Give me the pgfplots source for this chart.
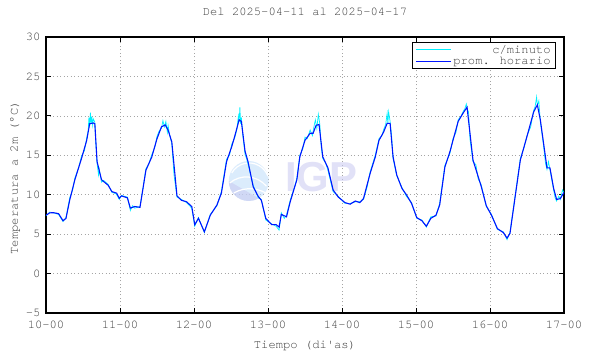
\documentclass[border=0pt]{standalone}
\usepackage{pgfplots}
\pgfplotsset{compat=1.18}
\usepackage{fontspec}
\setmainfont{texgyrecursor-regular.otf}
\newfontfamily\wmfont{Liberation Sans}
\definecolor{wmblue}{RGB}{190,220,250}
\definecolor{wmlav}{RGB}{200,200,240}
\definecolor{cmin}{RGB}{0,240,255}
\definecolor{phor}{RGB}{0,20,255}
\definecolor{gridc}{RGB}{165,165,165}
\definecolor{txt}{RGB}{60,60,60}
\pgfplotstableread{
d T
10.00 7.4
10.05 7.7
10.10 7.72
10.17 7.6
10.23 6.7
10.27 7.0
10.32 9.3
10.39 11.9
10.48 14.6
10.55 16.9
10.59 19.0
10.64 19.1
10.66 19.0
10.69 14.2
10.75 11.9
10.84 11.2
10.89 10.4
10.955 10.2
10.99 9.55
11.02 9.85
11.10 9.6
11.14 8.3
11.20 8.5
11.27 8.4
11.35 13.1
11.43 14.8
11.50 17.1
11.56 18.6
11.61 18.85
11.65 18.2
11.70 16.7
11.77 9.85
11.83 9.3
11.90 9.1
11.97 8.5
12.01 6.2
12.06 7.0
12.14 5.3
12.22 7.4
12.31 8.7
12.37 10.2
12.44 14.2
12.51 16.1
12.55 17.4
12.61 19.5
12.64 19.3
12.69 15.5
12.73 14.2
12.80 11.0
12.87 9.75
12.91 9.3
12.97 7.0
13.05 6.2
13.11 6.2
13.15 5.9
13.18 7.5
13.25 7.2
13.30 9.1
13.39 11.9
13.43 14.8
13.50 16.9
13.57 17.8
13.61 17.8
13.65 18.8
13.69 18.9
13.74 14.8
13.81 13.4
13.88 10.6
13.95 9.7
14.04 9.0
14.11 8.8
14.18 9.2
14.24 9.0
14.29 9.5
14.38 12.7
14.45 14.8
14.50 16.9
14.56 17.9
14.61 19.05
14.65 19.05
14.69 14.8
14.74 12.5
14.81 10.8
14.87 10.0
14.94 8.9
15.01 7.1
15.08 6.7
15.14 6.0
15.20 7.0
15.27 7.4
15.32 8.7
15.39 13.5
15.46 15.5
15.50 16.9
15.57 19.3
15.64 20.4
15.69 21.1
15.77 14.4
15.84 12.3
15.88 11.1
15.95 8.6
16.02 7.4
16.10 5.7
16.18 5.2
16.23 4.5
16.27 5.1
16.34 9.75
16.41 14.4
16.50 17.4
16.59 20.5
16.64 21.4
16.68 19.5
16.77 13.4
16.81 13.4
16.86 10.8
16.90 9.4
16.95 9.5
17.00 10.3
}\horario
\pgfplotstableread{
d T
10.00 7.3
10.05 7.8
10.10 7.7
10.17 7.5
10.23 6.6
10.27 7.1
10.30 8.6
10.32 9.6
10.36 10.6
10.39 12.1
10.44 13.4
10.48 14.9
10.52 15.6
10.55 17.2
10.57 18.1
10.58 19.8
10.59 18.7
10.60 20.4
10.61 19.0
10.62 19.9
10.63 18.8
10.64 19.6
10.66 19.2
10.67 17.0
10.69 14.0
10.71 12.5
10.72 13.2
10.75 11.6
10.78 11.8
10.84 11.3
10.89 10.3
10.95 10.1
10.99 9.4
11.02 9.9
11.10 9.7
11.14 8.0
11.17 8.6
11.20 8.3
11.27 8.5
11.31 10.8
11.35 13.3
11.39 13.9
11.43 15.1
11.47 16.0
11.50 17.4
11.53 18.1
11.56 18.4
11.58 19.4
11.60 18.6
11.62 19.3
11.64 17.9
11.65 18.8
11.67 17.6
11.70 16.5
11.73 12.5
11.77 9.7
11.83 9.4
11.90 9.0
11.97 8.3
12.01 6.0
12.06 7.1
12.14 5.2
12.22 7.5
12.31 8.6
12.37 10.4
12.44 14.5
12.48 15.0
12.51 16.4
12.55 17.2
12.58 18.3
12.60 20.0
12.61 19.2
12.62 21.1
12.63 19.0
12.64 19.8
12.66 17.5
12.69 15.1
12.71 14.6
12.73 13.9
12.80 11.2
12.87 9.6
12.91 9.4
12.97 6.8
13.05 6.3
13.11 6.0
13.15 5.5
13.18 7.7
13.22 7.0
13.25 7.4
13.30 9.3
13.36 11.0
13.39 12.1
13.43 15.0
13.47 15.8
13.50 17.3
13.53 17.1
13.57 18.2
13.60 17.5
13.62 18.6
13.64 19.5
13.66 18.4
13.68 20.2
13.70 19.0
13.72 16.0
13.74 14.6
13.78 14.0
13.81 13.1
13.88 10.4
13.95 9.8
14.04 8.9
14.11 8.9
14.18 9.1
14.24 9.1
14.29 9.4
14.34 11.0
14.38 12.9
14.45 15.0
14.50 17.1
14.54 17.5
14.56 18.2
14.59 18.9
14.61 20.3
14.62 19.0
14.63 20.5
14.65 19.3
14.67 17.5
14.69 14.6
14.74 12.4
14.81 10.9
14.87 9.8
14.94 9.0
15.01 7.0
15.08 6.8
15.14 5.9
15.20 7.2
15.27 7.3
15.32 8.9
15.39 13.7
15.46 15.3
15.50 17.1
15.54 17.9
15.57 19.5
15.61 20.0
15.64 20.6
15.66 20.9
15.68 21.5
15.69 20.9
15.71 20.5
15.73 17.0
15.77 14.2
15.81 13.8
15.84 12.0
15.88 11.3
15.95 8.5
16.02 7.5
16.10 5.6
16.18 5.3
16.23 4.3
16.27 5.2
16.34 9.9
16.41 14.6
16.46 16.0
16.50 17.5
16.55 18.6
16.59 20.7
16.61 21.2
16.63 22.4
16.64 21.3
16.66 21.9
16.68 19.3
16.72 16.5
16.75 14.0
16.77 13.2
16.79 14.2
16.81 13.2
16.86 10.6
16.88 9.6
16.90 9.2
16.93 9.8
16.95 9.4
16.98 10.6
17.00 10.2
}\minuto
\begin{document}
\begin{tikzpicture}
\path[use as bounding box] (-46bp,-41bp) rectangle (544bp,313bp);
\begin{axis}[
  scale only axis, width=518bp, height=276bp,
  xmin=10, xmax=17, ymin=-5, ymax=30,
  xtick={10,11,12,13,14,15,16,17},
  xticklabels={10-00,11-00,12-00,13-00,14-00,15-00,16-00,17-00},
  ytick={-5,0,5,10,15,20,25,30},
  yticklabels={-5,0,5,10,15,20,25,30},
  tick align=inside, major tick length=5bp,
  every tick/.style={black, line width=1bp},
  axis line style={black, line width=1.3bp},
  grid=major,
  grid style={gridc, line width=0.6bp, dash pattern=on 1bp off 2.5bp},
  tick label style={font=\fontsize{12.2}{12.5}\selectfont, text=txt},
  xticklabel style={yshift=-4bp},
  yticklabel style={xshift=-2bp},
  title style={font=\fontsize{12.2}{12.5}\selectfont, text=txt, at={(axis description cs:0.5,1.0688)}, anchor=center},
  title={Del 2025-04-11 al 2025-04-17},
  xlabel={Tiempo (di\textquotesingle as)},
  ylabel={Temperatura a 2m (°C)},
  xlabel style={font=\fontsize{12.2}{12.5}\selectfont, text=txt, at={(axis description cs:0.5,-0.1196)}, anchor=center},
  ylabel style={font=\fontsize{12.2}{12.5}\selectfont, text=txt, at={(axis description cs:-0.0598,0.49)}, anchor=center},
  legend style={at={(axis description cs:0.9846,0.983)}, anchor=north east,
    draw=black, line width=0.8bp, fill=white, inner xsep=3bp, inner ysep=1bp, row sep=-2bp,
    font=\fontsize{12.2}{12.5}\selectfont, text=txt},
  legend cell align=right,
  legend image code/.code={\draw[#1, line width=1bp] (0bp,0bp) -- (35bp,0bp);},
]
\begin{scope}[opacity=0.55]
\fill[wmblue] (axis cs:12.74,11.74) circle [radius=20bp];
\fill[wmlav] (axis cs:12.74,11.74) ++(-20bp,0bp) arc[start angle=180, end angle=300, radius=20bp] -- cycle;
\end{scope}
\draw[white, line width=1.2bp] ([xshift=-17bp,yshift=8bp]axis cs:12.74,11.74) arc[start angle=150, end angle=20, radius=20bp];
\draw[white, line width=1.2bp] ([xshift=-19bp,yshift=-2bp]axis cs:12.74,11.74) arc[start angle=130, end angle=40, radius=26bp];
\draw[white, line width=1.2bp] ([xshift=-15bp,yshift=-12bp]axis cs:12.74,11.74) arc[start angle=120, end angle=50, radius=32bp];
\node[wmlav, opacity=0.55, font=\wmfont\bfseries\fontsize{42}{42}\selectfont] at (axis cs:13.72,12.18) {IGP};
\addplot[cmin, line width=0.7bp] table[x=d, y=T] {\minuto};
\addlegendentry{c/minuto}
\addplot[phor, line width=1.1bp] table[x=d, y=T] {\horario};
\addlegendentry{prom. horario}
\end{axis}
\end{tikzpicture}
\end{document}
